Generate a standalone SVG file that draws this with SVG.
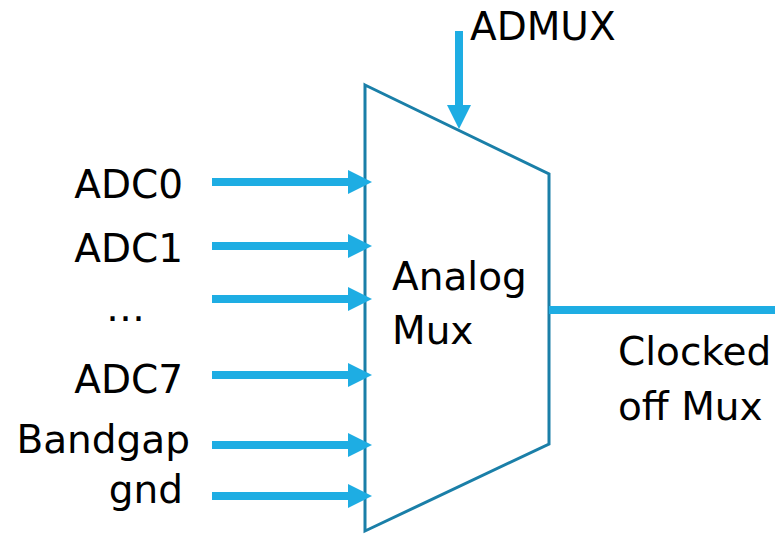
<svg xmlns="http://www.w3.org/2000/svg" width="775" height="534" viewBox="0 0 775 534">
<defs>
<style>
.t{font-family:"DejaVu Sans",sans-serif;font-size:39px;fill:#000}
.w{stroke:#1eade3;stroke-width:8;fill:none}
.box{fill:#fff;stroke:#1a7fa8;stroke-width:3;stroke-linejoin:miter}
</style>
<marker id="ah" viewBox="0 0 24 24" refX="0" refY="12" markerWidth="24" markerHeight="24" markerUnits="userSpaceOnUse" orient="auto">
<path d="M0,0 L24,12 L0,24 Z" fill="#1eade3"/>
</marker>
</defs>
<g id="mux">
<polygon class="box" points="365,85 549,174 549,444 365,531"/>
<text class="t" x="392" y="290">Analog</text>
<text class="t" x="392" y="344">Mux</text>
</g>
<g id="connectors">
<line class="w" x1="212" y1="182" x2="348" y2="182" marker-end="url(#ah)"/>
<line class="w" x1="212" y1="246" x2="348" y2="246" marker-end="url(#ah)"/>
<line class="w" x1="212" y1="299" x2="348" y2="299" marker-end="url(#ah)"/>
<line class="w" x1="212" y1="375" x2="348" y2="375" marker-end="url(#ah)"/>
<line class="w" x1="212" y1="445" x2="348" y2="445" marker-end="url(#ah)"/>
<line class="w" x1="212" y1="496" x2="348" y2="496" marker-end="url(#ah)"/>
<line class="w" x1="459" y1="31" x2="459" y2="105" marker-end="url(#ah)"/>
<line class="w" x1="549" y1="310" x2="775" y2="310"/>
</g>
<g id="labels">
<text class="t" x="183" y="198" text-anchor="end">ADC0</text>
<text class="t" x="183" y="262" text-anchor="end">ADC1</text>
<text class="t" x="127" y="321" text-anchor="middle" letter-spacing="3">…</text>
<text class="t" x="183" y="393" text-anchor="end">ADC7</text>
<text class="t" x="190" y="453" text-anchor="end">Bandgap</text>
<text class="t" x="183" y="503" text-anchor="end">gnd</text>
<text class="t" x="470" y="40">ADMUX</text>
<text class="t" x="618" y="365">Clocked</text>
<text class="t" x="618" y="420">off Mux</text>
</g>
</svg>
